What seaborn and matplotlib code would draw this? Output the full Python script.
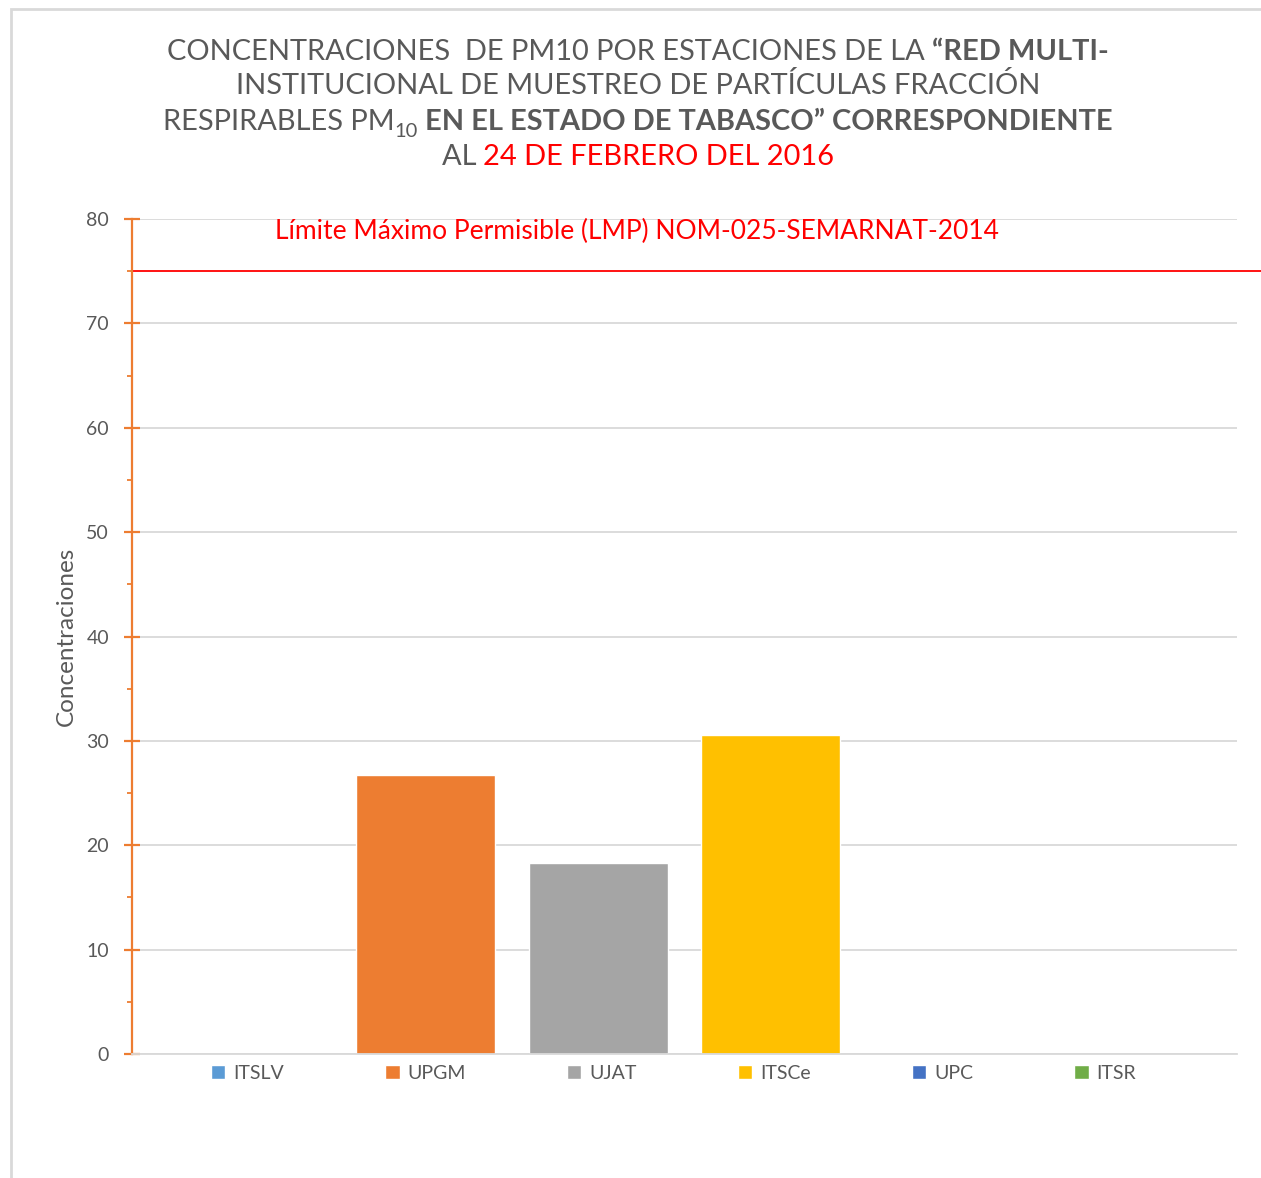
# PM10 concentrations per station - 24 Feb 2016
import matplotlib
matplotlib.use("Agg")
import numpy as np
import pandas as pd
import matplotlib.pyplot as plt
import seaborn as sns
from matplotlib.patches import Rectangle
from matplotlib.ticker import MultipleLocator

estaciones = ['ITSLV', 'UPGM', 'UJAT', 'ITSCe', 'UPC', 'ITSR']
concentraciones = [0.0, 26.7, 18.3, 30.6, 0.0, 0.0]
colores = ['#5B9BD5', '#ED7D31', '#A5A5A5', '#FFC000', '#4472C4', '#70AD47']
lmp = 75
lmp_texto = 'Límite Máximo Permisible (LMP) NOM-025-SEMARNAT-2014'

df = pd.DataFrame({'grupo': [''] * len(estaciones),
                   'Estacion': estaciones,
                   'Concentraciones': concentraciones})

sns.set_style('white')
plt.rcParams['font.family'] = ['Lato', 'DejaVu Sans']

gris = '#595959'
fig = plt.figure(figsize=(12.61, 11.78), dpi=100)
ax = fig.add_axes([132 / 1261, 1 - 1054 / 1178, 1105 / 1261, 835 / 1178])

sns.barplot(data=df, x='grupo', y='Concentraciones', hue='Estacion',
            palette=colores, hue_order=estaciones, width=0.937, gap=0.196,
            saturation=1, ax=ax, legend=True)

ax.set_ylim(0, 80)
ax.set_xlim(-0.5, 0.5)
ax.yaxis.set_major_locator(MultipleLocator(10))
ax.yaxis.set_minor_locator(MultipleLocator(5))
ax.set_xticks([])
ax.set_xlabel('')
ax.grid(axis='y', color='#D9D9D9', lw=1.3)
ax.set_axisbelow(True)
for s in ['top', 'right']:
    ax.spines[s].set_visible(False)
ax.spines['left'].set_color('#ED7D31')
ax.spines['left'].set_linewidth(1.6)
ax.spines['bottom'].set_color('#D9D9D9')
ax.spines['bottom'].set_linewidth(1.3)
ax.tick_params(axis='y', which='major', left=True, direction='inout', length=11,
               width=1.6, color='#ED7D31', labelsize=14, labelcolor=gris, pad=11)
ax.tick_params(axis='y', which='minor', left=True, direction='out', length=3.5,
               width=1.3, color='#ED7D31')
ax.set_ylabel('Concentraciones', fontsize=17.5, color=gris, labelpad=7)

# limite maximo permisible
ax.axhline(lmp, xmin=0, xmax=1.03, color='#FF0000', lw=1.3, clip_on=False)
ax.text(0.129, 78.8, lmp_texto, transform=ax.get_yaxis_transform(),
        color='#FF0000', fontsize=19, va='center', ha='left')

# legend below
handles, labels = ax.get_legend_handles_labels()
ax.legend(handles, labels, loc='upper center', bbox_to_anchor=(0.49, 0.008),
          ncol=6, frameon=False, fontsize=14, labelcolor=gris,
          handlelength=0.75, handleheight=0.75, handletextpad=0.4,
          columnspacing=5.2)

# title with mixed formatting
rojo = '#FF0000'
lineas = [
    (1 - 60 / 1178, [('CONCENTRACIONES  DE PM10 POR ESTACIONES DE LA ', 'normal', gris, False),
                     ('“RED MULTI-', 'bold', gris, False)]),
    (1 - 94 / 1178, [('INSTITUCIONAL DE MUESTREO DE PARTÍCULAS FRACCIÓN', 'normal', gris, False)]),
    (1 - 130 / 1178, [('RESPIRABLES PM', 'normal', gris, False),
                      ('10', 'normal', gris, True),
                      (' EN EL ESTADO DE TABASCO” CORRESPONDIENTE', 'bold', gris, False)]),
    (1 - 165 / 1178, [('AL ', 'normal', gris, False),
                      ('24 DE FEBRERO DEL 2016', 'normal', rojo, False)]),
]
renderer = fig.canvas.get_renderer()
cx = 638 / 1261
for y, segs in lineas:
    objs = []
    for txt, w, c, sub in segs:
        fs = 14.5 if sub else 20.9
        dy = -7 / 1178 if sub else 0
        t = fig.text(0, y + dy, txt, fontsize=fs, fontweight=w, color=c,
                     ha='left', va='baseline')
        objs.append(t)
    widths = [o.get_window_extent(renderer).width / fig.bbox.width for o in objs]
    x = cx - sum(widths) / 2
    for o, wd in zip(objs, widths):
        o.set_x(x)
        x += wd

# chart frame
fig.patches.append(Rectangle((11 / 1261, -0.1), 1.2, 1.1 - 9 / 1178,
                             transform=fig.transFigure, fill=False,
                             edgecolor='#D9D9D9', lw=2))

fig.savefig('out.png', dpi=100)
